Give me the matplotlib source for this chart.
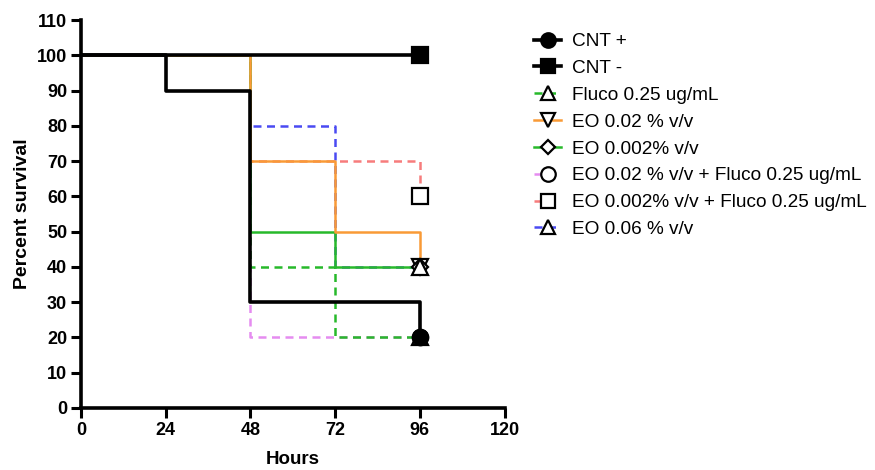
import matplotlib
matplotlib.use("Agg")
import matplotlib.pyplot as plt
from matplotlib.lines import Line2D

plt.rcParams['font.family'] = ['Liberation Sans', 'DejaVu Sans']

# datos de supervivencia (horas, % supervivencia)
nombres = ["CNT +", "CNT -", "Fluco 0.25 ug/mL", "EO 0.02 % v/v", "EO 0.002% v/v",
           "EO 0.02 % v/v + Fluco 0.25 ug/mL", "EO 0.002% v/v + Fluco 0.25 ug/mL",
           "EO 0.06 % v/v"]
horas = [
    [0, 24, 48, 96],
    [0, 96],
    [0, 48, 72, 96],
    [0, 48, 72, 96],
    [0, 48, 72, 96],
    [0, 48, 96],
    [0, 48, 96],
    [0, 48, 72, 96],
]
supervivencia = [
    [100, 90, 30, 20],
    [100, 100],
    [100, 40, 20, 20],
    [100, 70, 50, 40],
    [100, 50, 40, 40],
    [100, 20, 20],
    [100, 70, 60],
    [100, 80, 40, 40],
]
x_ticks = [0, 24, 48, 72, 96, 120]
y_ticks = list(range(0, 111, 10))

# estilos
discont = (0, (3.2, 2.2))
colores = ["black", "black", "#27b92a", "#f99a36", "#27b92a", "#e58cf0", "#f77c7c", "#4a4af2"]
estilos = ["-", "-", discont, "-", "-", discont, discont, discont]
anchos = [2.6, 2.6, 1.8, 1.8, 1.8, 1.8, 1.8, 1.8]
marcadores = ["o", "s", "^", "v", "D", "o", "s", "^"]
rellenos = ["black", "black", "white", "white", "white", "white", "white", "white"]
tam_marcador = [11, 11, 11, 11, 8, 11, 11, 11]

fig = plt.figure(figsize=(8.75, 4.7), dpi=100)
ax = fig.add_axes([0.0926, 0.132, 0.484, 0.825])

# orden de dibujo: azul abajo, naranja arriba de los colores, negros encima
orden_z = [4, 4, 2.2, 2.5, 2.4, 2.1, 2.3, 2.0]
for i in range(len(nombres)):
    ax.step(horas[i], supervivencia[i], where="post", color=colores[i],
            linestyle=estilos[i], linewidth=anchos[i], zorder=orden_z[i],
            solid_capstyle="butt", clip_on=False)

z_marc = [7, 7, 5, 5, 5, 5, 5, 6]
for i in range(len(nombres)):
    ax.plot(horas[i][-1], supervivencia[i][-1], marker=marcadores[i],
            markersize=tam_marcador[i], markerfacecolor=rellenos[i],
            markeredgecolor="black", markeredgewidth=1.6, linestyle="none",
            zorder=z_marc[i], clip_on=False)

ax.set_xlim(0, 120)
ax.set_ylim(0, 110)
ax.set_xticks(x_ticks)
ax.set_yticks(y_ticks)
for lbl in ax.get_xticklabels() + ax.get_yticklabels():
    lbl.set_fontweight("bold")
ax.tick_params(axis="both", labelsize=13, width=2.2, length=7, direction="out", pad=3)
for lado in ["top", "right"]:
    ax.spines[lado].set_visible(False)
for lado in ["left", "bottom"]:
    ax.spines[lado].set_linewidth(2.6)
ax.set_xlabel("Hours", fontsize=13.5, fontweight="bold", labelpad=9)
ax.set_ylabel("Percent survival", fontsize=14, fontweight="bold", labelpad=4)

handles = []
for i in range(len(nombres)):
    handles.append(Line2D([0], [0], color=colores[i], linestyle=estilos[i],
                          linewidth=anchos[i], marker=marcadores[i],
                          markersize=tam_marcador[i] * 0.95, markerfacecolor=rellenos[i],
                          markeredgecolor="black", markeredgewidth=1.6))
fig.legend(handles, nombres, loc="upper left", bbox_to_anchor=(0.602, 0.946),
           frameon=False, fontsize=13.7, handlelength=1.4, handletextpad=0.6,
           labelspacing=0.5, borderaxespad=0)

fig.savefig("out.png", dpi=100)
